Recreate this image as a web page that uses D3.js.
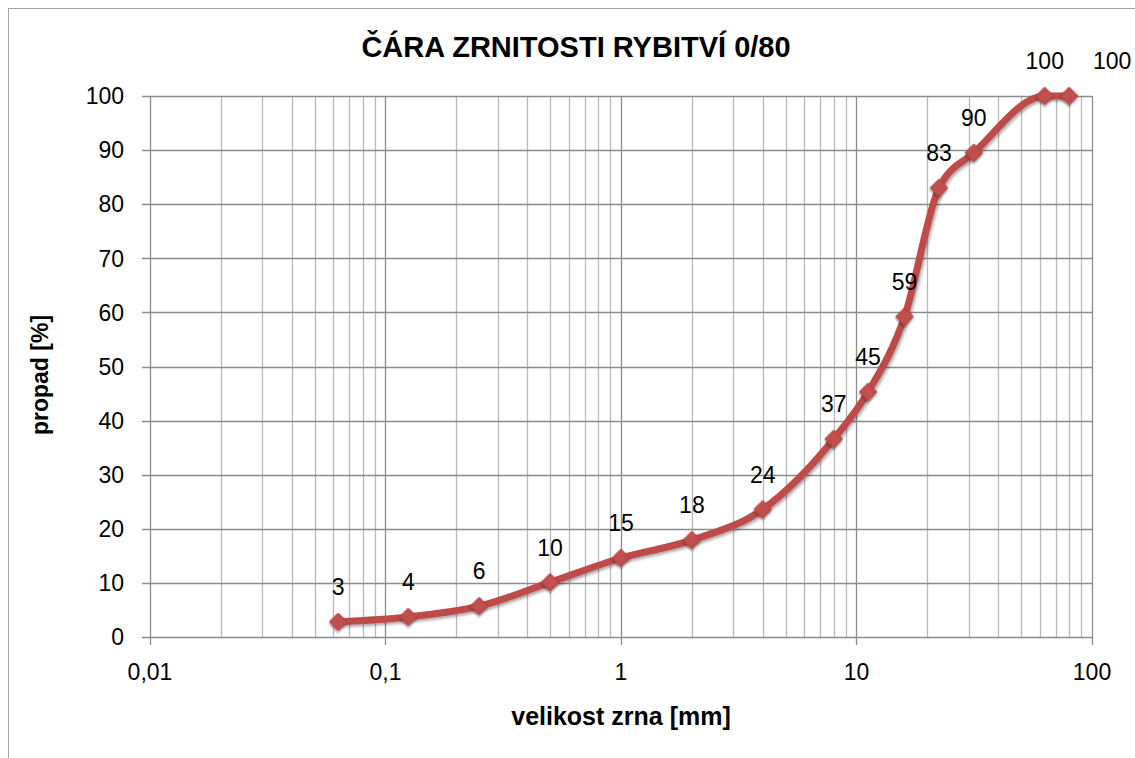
<!DOCTYPE html>
<html>
<head>
<meta charset="utf-8">
<script src="https://cdn.jsdelivr.net/npm/d3@7"></script>
<style>
  body { margin: 0; background: #fff; }
  text { font-family: "Liberation Sans", Arial, sans-serif; fill: #000; }
</style>
</head>
<body>
<div id="chart"></div>
<script>
// data
var sieveSizes = [0.063, 0.125, 0.25, 0.5, 1, 2, 4, 8, 11.2, 16, 22.4, 31.5, 63, 80]
var passing = [2.8, 3.7, 5.7, 10.1, 14.6, 17.9, 23.6, 36.6, 45.3, 59.2, 83.0, 89.5, 100, 100]
var pointLabels = ["3", "4", "6", "10", "15", "18", "24", "37", "45", "59", "83", "90", "100", "100"]
var xTicks = [0.01, 0.1, 1, 10, 100]
var xTickLabels = ["0,01", "0,1", "1", "10", "100"]
var yTicks = [0, 10, 20, 30, 40, 50, 60, 70, 80, 90, 100]

var width = 1135
var height = 758
var plotLeft = 150, plotRight = 1092, plotTop = 96, plotBottom = 637

var svg = d3.select("#chart")
    .append("svg")
    .attr("width", width)
    .attr("height", height)

var defs = svg.append("defs")
var shadow = defs.append("filter").attr("id", "shadow")
    .attr("x", "-20%").attr("y", "-20%").attr("width", "140%").attr("height", "140%")
shadow.append("feDropShadow")
    .attr("dx", 1.5).attr("dy", 2).attr("stdDeviation", 1.5)
    .attr("flood-color", "#000").attr("flood-opacity", 0.35)

// outer frame
svg.append("rect")
    .attr("x", 8.5).attr("y", 8.5)
    .attr("width", width + 10).attr("height", height + 10)
    .attr("fill", "none").attr("stroke", "#a6a6a6").attr("stroke-width", 1)

var x = d3.scaleLog().domain([0.01, 100]).range([plotLeft, plotRight])
var y = d3.scaleLinear().domain([0, 100]).range([plotBottom, plotTop])

// minor vertical gridlines (2..9 of each decade)
var minor = []
for (var d = 0.01; d < 100; d *= 10) {
    for (var k = 2; k <= 9; k++) minor.push(+(d * k).toPrecision(3))
}
svg.append("g").selectAll("line").data(minor).enter().append("line")
    .attr("x1", function (v) { return Math.round(x(v)) + 0.5 })
    .attr("x2", function (v) { return Math.round(x(v)) + 0.5 })
    .attr("y1", plotTop).attr("y2", plotBottom)
    .attr("stroke", "#b9b9b9").attr("stroke-width", 1.3)

// horizontal gridlines
svg.append("g").selectAll("line").data(yTicks).enter().append("line")
    .attr("x1", plotLeft - 8).attr("x2", plotRight)
    .attr("y1", function (v) { return Math.round(y(v)) + 0.5 })
    .attr("y2", function (v) { return Math.round(y(v)) + 0.5 })
    .attr("stroke", "#8c8c8c").attr("stroke-width", 1.3)

// major vertical gridlines with ticks
svg.append("g").selectAll("line").data(xTicks).enter().append("line")
    .attr("x1", function (v) { return Math.round(x(v)) + 0.5 })
    .attr("x2", function (v) { return Math.round(x(v)) + 0.5 })
    .attr("y1", plotTop).attr("y2", plotBottom + 8)
    .attr("stroke", "#8c8c8c").attr("stroke-width", 1.3)

// tick labels
svg.append("g").selectAll("text").data(yTicks).enter().append("text")
    .attr("x", 124).attr("y", function (v) { return y(v) })
    .attr("dy", "0.36em")
    .attr("text-anchor", "end")
    .style("font-size", "23px")
    .text(function (v) { return v })

svg.append("g").selectAll("text").data(xTicks).enter().append("text")
    .attr("x", function (v) { return x(v) })
    .attr("y", 672)
    .attr("dy", "0.36em")
    .attr("text-anchor", "middle")
    .style("font-size", "23px")
    .text(function (v, i) { return xTickLabels[i] })

// titles
svg.append("text").attr("x", 576).attr("y", 47).attr("dy", "0.36em")
    .attr("text-anchor", "middle")
    .style("font-size", "29px").style("font-weight", "bold")
    .text("ČÁRA ZRNITOSTI RYBITVÍ 0/80")

svg.append("text").attr("x", 621).attr("y", 716).attr("dy", "0.36em")
    .attr("text-anchor", "middle")
    .style("font-size", "25px").style("font-weight", "bold")
    .text("velikost zrna [mm]")

svg.append("text")
    .attr("transform", "translate(40,375) rotate(-90)")
    .attr("dy", "0.36em")
    .attr("text-anchor", "middle")
    .style("font-size", "23px").style("font-weight", "bold")
    .text("propad [%]")

// the grading curve
var points = sieveSizes.map(function (s, i) { return { size: s, value: passing[i], label: pointLabels[i] } })

var line = d3.line()
    .x(function (d) { return x(d.size) })
    .y(function (d) { return y(d.value) })
    .curve(d3.curveMonotoneX)

svg.append("path")
    .datum(points)
    .attr("d", line)
    .attr("fill", "none")
    .attr("stroke", "#be4b48")
    .attr("stroke-width", 7)
    .attr("stroke-linejoin", "round")
    .attr("filter", "url(#shadow)")

var diamond = d3.symbol().type(d3.symbolSquare).size(150)
svg.append("g").selectAll("path").data(points).enter().append("path")
    .attr("d", diamond)
    .attr("transform", function (d) { return "translate(" + x(d.size) + "," + y(d.value) + ") rotate(45)" })
    .attr("fill", "#c0504d")
    .attr("stroke", "#b0403d")
    .attr("stroke-width", 1)
    .attr("filter", "url(#shadow)")

// data labels above the points (last one pushed right like in Excel)
svg.append("g").selectAll("text").data(points).enter().append("text")
    .attr("x", function (d, i) { return x(d.size) + (i === points.length - 1 ? 43 : 0) })
    .attr("y", function (d) { return y(d.value) - 35 })
    .attr("dy", "0.36em")
    .attr("text-anchor", "middle")
    .style("font-size", "23px")
    .text(function (d) { return d.label })
</script>
</body>
</html>
